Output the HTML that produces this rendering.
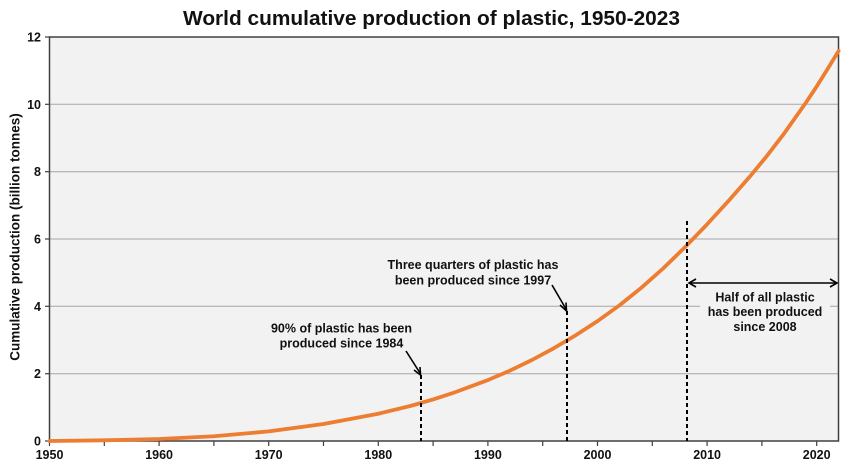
<!DOCTYPE html>
<html>
<head>
<meta charset="utf-8">
<style>
  html,body{margin:0;padding:0;background:#fff;}
  svg{display:block;}
  text{font-family:"Liberation Sans",Arial,sans-serif;font-weight:bold;fill:#111;}
</style>
</head>
<body>
<svg width="863" height="466" viewBox="0 0 863 466" xmlns="http://www.w3.org/2000/svg">
  <!-- title -->
  <text x="431.5" y="25" font-size="20.5" text-anchor="middle" textLength="497" lengthAdjust="spacingAndGlyphs">World cumulative production of plastic, 1950-2023</text>

  <!-- plot background -->
  <rect x="49.5" y="37" width="789" height="404" fill="#f2f2f2"/>

  <!-- gridlines -->
  <g stroke="#a6a6a6" stroke-width="1">
    <line x1="49.5" x2="838.5" y1="373.7" y2="373.7"/>
    <line x1="49.5" x2="838.5" y1="306.3" y2="306.3"/>
    <line x1="49.5" x2="838.5" y1="239" y2="239"/>
    <line x1="49.5" x2="838.5" y1="171.7" y2="171.7"/>
    <line x1="49.5" x2="838.5" y1="104.3" y2="104.3"/>
  </g>

  <!-- plot border -->
  <rect x="49.5" y="37" width="789" height="404" fill="none" stroke="#404040" stroke-width="1.5"/>

  <!-- y ticks -->
  <g stroke="#404040" stroke-width="1.2">
    <line x1="45" x2="49.5" y1="441" y2="441"/>
    <line x1="45" x2="49.5" y1="373.7" y2="373.7"/>
    <line x1="45" x2="49.5" y1="306.3" y2="306.3"/>
    <line x1="45" x2="49.5" y1="239" y2="239"/>
    <line x1="45" x2="49.5" y1="171.7" y2="171.7"/>
    <line x1="45" x2="49.5" y1="104.3" y2="104.3"/>
    <line x1="45" x2="49.5" y1="37" y2="37"/>
  </g>
  <!-- x ticks every 5 years -->
  <g stroke="#404040" stroke-width="1.2">
    <line x1="49.5" x2="49.5" y1="441" y2="446"/>
    <line x1="104.3" x2="104.3" y1="441" y2="446"/>
    <line x1="159.1" x2="159.1" y1="441" y2="446"/>
    <line x1="213.9" x2="213.9" y1="441" y2="446"/>
    <line x1="268.7" x2="268.7" y1="441" y2="446"/>
    <line x1="323.5" x2="323.5" y1="441" y2="446"/>
    <line x1="378.3" x2="378.3" y1="441" y2="446"/>
    <line x1="433.1" x2="433.1" y1="441" y2="446"/>
    <line x1="487.9" x2="487.9" y1="441" y2="446"/>
    <line x1="542.7" x2="542.7" y1="441" y2="446"/>
    <line x1="597.5" x2="597.5" y1="441" y2="446"/>
    <line x1="652.3" x2="652.3" y1="441" y2="446"/>
    <line x1="707.1" x2="707.1" y1="441" y2="446"/>
    <line x1="761.9" x2="761.9" y1="441" y2="446"/>
    <line x1="816.7" x2="816.7" y1="441" y2="446"/>
  </g>

  <!-- y labels -->
  <g font-size="12.5" text-anchor="end">
    <text x="41" y="445.5">0</text>
    <text x="41" y="378">2</text>
    <text x="41" y="310.8">4</text>
    <text x="41" y="243.5">6</text>
    <text x="41" y="176">8</text>
    <text x="41" y="108.8">10</text>
    <text x="41" y="41.5">12</text>
  </g>
  <!-- x labels -->
  <g font-size="12.5" text-anchor="middle">
    <text x="49.5" y="459">1950</text>
    <text x="159.1" y="459">1960</text>
    <text x="268.7" y="459">1970</text>
    <text x="378.3" y="459">1980</text>
    <text x="487.9" y="459">1990</text>
    <text x="597.5" y="459">2000</text>
    <text x="707.1" y="459">2010</text>
    <text x="816.7" y="459">2020</text>
  </g>

  <!-- y-axis title -->
  <text transform="translate(19.5,237) rotate(-90)" font-size="13.5" text-anchor="middle">Cumulative production (billion tonnes)</text>

  <!-- curve -->
  <polyline fill="none" stroke="#ed7d31" stroke-width="3.8" stroke-linejoin="round" stroke-linecap="round"
    points="49.5,441 104.3,440.33 159.1,438.98 213.9,436.25 268.7,431.4 323.5,424.03 378.3,413.73 411.2,405.75 433.1,399.41 455,392.28 487.9,380.06 509.8,370.69 531.7,360.12 553.7,348.3 575.6,335.34 597.5,321.13 619.4,305.39 641.3,287.81 663.2,268.36 685.1,247.06 707.1,224.27 729,200.36 750.9,175.34 767.3,155.4 783.8,133.93 805.7,102.95 816.7,86.39 827.6,69.05 838.6,50.93"/>

  <!-- dashed vertical lines -->
  <g stroke="#000" stroke-width="2" stroke-dasharray="4,3">
    <line x1="421" x2="421" y1="375" y2="441"/>
    <line x1="567" x2="567" y1="311" y2="441"/>
    <line x1="687" x2="687" y1="221" y2="441"/>
  </g>

  <!-- pointer arrows -->
  <g stroke="#000" stroke-width="1.6" fill="none">
    <line x1="406" y1="351" x2="420" y2="373"/>
    <polyline points="414,370 420.5,375 420,367"/>
    <line x1="552" y1="285" x2="566" y2="309"/>
    <polyline points="560,305 566.5,311 566,302.5"/>
  </g>

  <!-- double arrow -->
  <g stroke="#000" stroke-width="1.6" fill="none">
    <line x1="689" y1="283" x2="837" y2="283"/>
    <polyline points="696,279 689,283 696,287"/>
    <polyline points="830,279 837,283 830,287"/>
  </g>

  <!-- annotation texts -->
  <g font-size="12.5" text-anchor="middle">
    <text x="473" y="269">Three quarters of plastic has</text>
    <text x="473" y="284.5">been produced since 1997</text>
    <text x="341.5" y="332.5">90% of plastic has been</text>
    <text x="341.5" y="347.5">produced since 1984</text>
  </g>
  <rect x="700" y="288" width="130" height="46" fill="#f2f2f2"/>
  <g font-size="12.5" text-anchor="middle">
    <text x="765" y="301.5">Half of all plastic</text>
    <text x="765" y="316">has been produced</text>
    <text x="765" y="331">since 2008</text>
  </g>
</svg>
</body>
</html>
